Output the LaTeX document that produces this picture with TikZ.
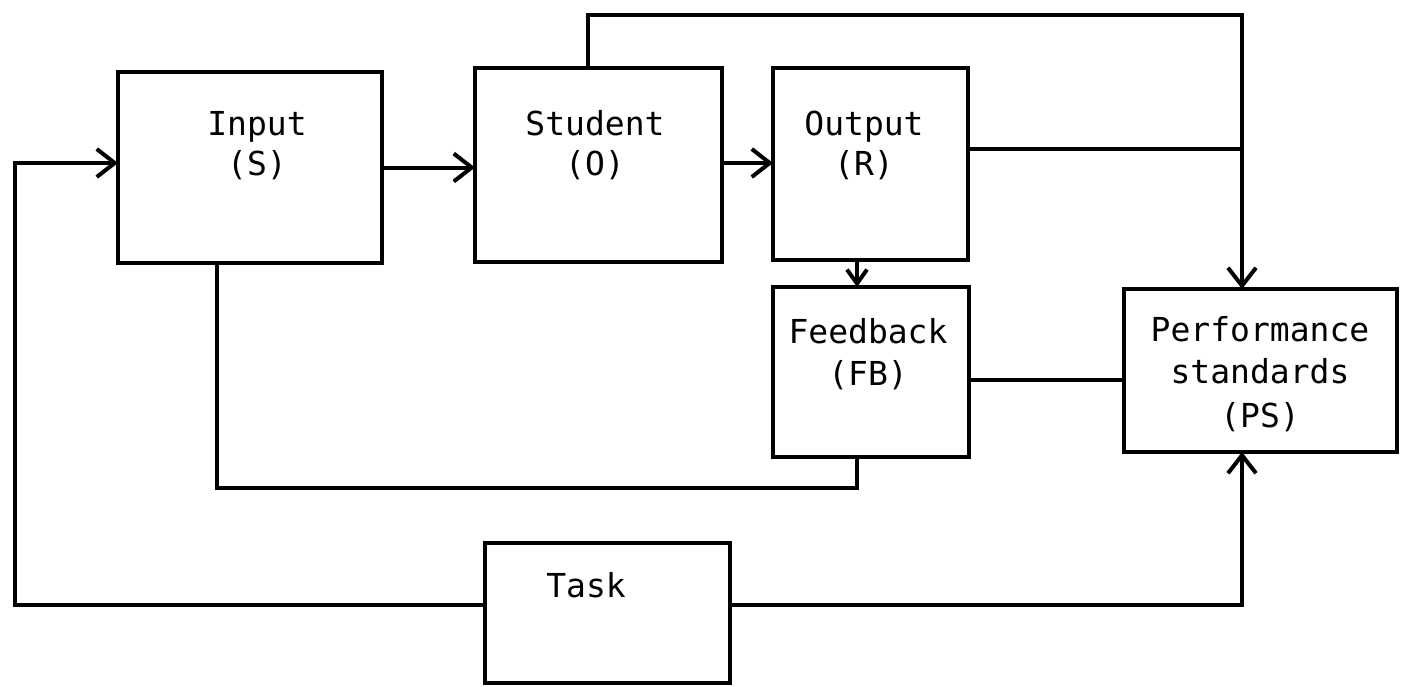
\documentclass[tikz,border=0pt]{standalone}
\usepackage{fontspec}
\setmonofont{DejaVu Sans Mono}
\usetikzlibrary{arrows.meta}
\begin{document}
\begin{tikzpicture}[x=1pt,y=-1pt,
  box/.style={draw, line width=4pt, inner sep=0pt, outer sep=0pt},
  txt/.style={font=\fontsize{33}{40}\selectfont\ttfamily, inner sep=0pt, anchor=base},
  conn/.style={line width=4pt, line join=miter},
  arr/.style={conn, -{Straight Barb[length=18pt,width=28pt]}},
  sarr/.style={conn, -{Straight Barb[length=14pt,width=20pt]}}]
\useasboundingbox (0,0) rectangle (1424,686);

% boxes
\node[box, minimum width=264pt, minimum height=191pt] (in) at (250,167.5) {};
\node[box, minimum width=247pt, minimum height=194pt] (st) at (598.5,165) {};
\node[box, minimum width=195pt, minimum height=192pt] (out) at (870.5,164) {};
\node[box, minimum width=196pt, minimum height=170pt] (fb) at (871,372) {};
\node[box, minimum width=273pt, minimum height=163pt] (ps) at (1260.5,370.5) {};
\node[box, minimum width=245pt, minimum height=140pt] (task) at (607.5,613) {};

% texts
\node[txt] (inA) at (257,135) {Input};
\node[txt] (inB) at (257,175) {(S)};
\node[txt] (stA) at (595,135) {Student};
\node[txt] (stB) at (595,175) {(O)};
\node[txt] (outA) at (864,135) {Output};
\node[txt] (outB) at (864,175) {(R)};
\node[txt] (fbA) at (868,343) {Feedback};
\node[txt] (fbB) at (868,385) {(FB)};
\node[txt] (psA) at (1260,341) {Performance};
\node[txt] (psB) at (1260,383) {standards};
\node[txt] (psC) at (1260,427) {(PS)};
\node[txt] (taskA) at (586,597) {Task};

% connector points
\coordinate (tl) at (15,163);
\coordinate (tr) at (1242,15);
\coordinate (oute) at ([yshift=15pt]out.east);
\coordinate (fbe) at ([yshift=-8pt]fb.east);
\coordinate (fbs) at ([xshift=-14pt]fb.south);
\coordinate (bl) at (857,488);

% connectors
\draw[arr] ([yshift=8pt]task.west) -| (tl) -- ([yshift=4.5pt]in.west);
\draw[arr] (in.east) -- (st.west |- in.east);
\draw[arr] ([yshift=2pt]st.east) -- ([yshift=1pt]out.west);
\draw[arr] ([xshift=-10.5pt]st.north) |- (tr) -- ([xshift=-18.5pt]ps.north);
\draw[conn] (oute) -- (tr |- oute);
\draw[sarr] ([xshift=-13.5pt]out.south) -- ([xshift=-14pt]fb.north);
\draw[conn] (fbe) -- (ps.west |- fbe);
\draw[conn] ([xshift=-33pt]in.south) |- (bl) -- (fbs);
\draw[arr] ([yshift=8pt]task.east) -| ([xshift=-18.5pt]ps.south);
\end{tikzpicture}
\end{document}
